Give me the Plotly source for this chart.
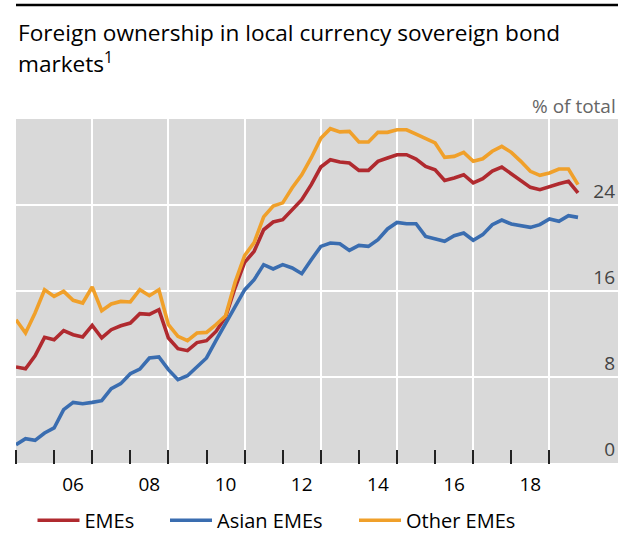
import plotly.graph_objects as go
import pandas as pd

# Quarterly observations, 2005 Q1 to 2019 Q4
quarters = pd.period_range("2005Q1", "2019Q4", freq="Q")
x_pos = [p.year + (p.quarter - 1) / 4 for p in quarters]

emes = [8.93, 8.77, 9.98, 11.69, 11.47, 12.31, 11.93, 11.72, 12.8, 11.63,
        12.4, 12.77, 13.02, 13.89, 13.83, 14.26, 11.63, 10.63, 10.45, 11.2,
        11.38, 12.24, 13.58, 16.3, 18.66, 19.69, 21.7, 22.42, 22.63, 23.56,
        24.49, 25.89, 27.53, 28.21, 28.0, 27.9, 27.22, 27.22, 28.06, 28.37,
        28.68, 28.68, 28.28, 27.59, 27.28, 26.29, 26.51, 26.82, 26.05, 26.45,
        27.15, 27.53, 26.91, 26.2, 25.64, 25.42, 25.73, 25.98, 26.2, 25.12]

asian_emes = [1.70, 2.26, 2.11, 2.79, 3.26, 4.96, 5.64, 5.52, 5.64, 5.80,
              6.91, 7.38, 8.31, 8.74, 9.77, 9.86, 8.68, 7.75, 8.12, 9.0,
              9.77, 11.4, 13.02, 14.57, 16.1, 17.05, 18.45, 18.05, 18.45, 18.14,
              17.61, 18.91, 20.15, 20.46, 20.4, 19.78, 20.24, 20.15, 20.77, 21.77,
              22.38, 22.26, 22.26, 21.08, 20.87, 20.62, 21.14, 21.4, 20.72, 21.24,
              22.17, 22.6, 22.23, 22.07, 21.92, 22.17, 22.7, 22.48, 23.0, 22.85]

other_emes = [13.33, 12.09, 13.95, 16.12, 15.5, 15.97, 15.13, 14.88, 16.37, 14.17,
              14.79, 15.03, 14.98, 16.12, 15.56, 16.12, 12.87, 11.78, 11.38, 12.09,
              12.15, 12.87, 13.7, 16.8, 19.3, 20.5, 22.9, 23.9, 24.2, 25.6,
              26.8, 28.4, 30.2, 31.1, 30.8, 30.85, 29.86, 29.86, 30.76, 30.76,
              31.0, 31.0, 30.6, 30.17, 29.77, 28.43, 28.52, 28.9, 28.06, 28.3,
              29.0, 29.45, 28.9, 28.06, 27.13, 26.76, 26.98, 27.35, 27.35, 25.89]

series_names = ["EMEs", "Asian EMEs", "Other EMEs"]
series_colors = ["#B02A2F", "#3A6DB0", "#F0A02A"]
legend_ids = ["legend", "legend2", "legend3"]

tick_years = list(range(2005, 2020))
label_years = [2006, 2008, 2010, 2012, 2014, 2016, 2018]
year_labels = ["06", "08", "10", "12", "14", "16", "18"]
grid_years = [2005, 2007, 2009, 2011, 2013, 2015, 2017, 2019]
y_ticks = [0, 8, 16, 24]

title_lines = ["Foreign ownership in local currency sovereign bond", "markets<sup>1</sup>"]
unit_label = "% of total"

FONT = "Open Sans"
W, H = 620, 550
ML, MR, MT, MB = 16, 2, 119, 87
PW, PH = W - ML - MR, H - MT - MB
X_RANGE = [2005, 2020.8]
TICK_LEN = 14


def px_x(px):
    return (px - ML) / PW


def px_y(py):
    return (H - MB - py) / PH


fig = go.Figure()
for name, vals, col, lg in zip(series_names, [emes, asian_emes, other_emes],
                               series_colors, legend_ids):
    fig.add_trace(go.Scatter(x=x_pos, y=vals, mode="lines", name=name, legend=lg,
                             line=dict(color=col, width=3.6)))

# helper (empty) trace so the tick-mark axis is drawn
fig.add_trace(go.Scatter(x=[], y=[], xaxis="x2", showlegend=False, hoverinfo="skip"))

legend_common = dict(orientation="h", yanchor="top", y=px_y(500.7),
                     xanchor="left", font=dict(size=20, family=FONT),
                     itemwidth=42, bgcolor="rgba(0,0,0,0)")

fig.update_layout(
    width=W, height=H,
    margin=dict(l=ML, r=MR, t=MT, b=MB),
    paper_bgcolor="white",
    plot_bgcolor="#D9D9D9",
    font=dict(family=FONT, size=19, color="black"),
    showlegend=True,
    legend=dict(x=px_x(32.5), **legend_common),
    legend2=dict(x=px_x(165), **legend_common),
    legend3=dict(x=px_x(354), **legend_common),
    xaxis=dict(range=X_RANGE, tickmode="array",
               tickvals=label_years, ticktext=year_labels,
               ticklabelshift=19, ticklabelstandoff=8,
               ticks="", showgrid=False, zeroline=False, showline=False,
               tickfont=dict(size=19),
               minor=dict(tickmode="array", tickvals=grid_years, ticks="",
                          showgrid=True, gridcolor="white", gridwidth=1.5)),
    # axis carrying only the yearly tick marks, sitting just above the bottom edge
    xaxis2=dict(range=X_RANGE, overlaying="x", anchor="free", side="bottom",
                position=TICK_LEN / PH, tickmode="array", tickvals=tick_years,
                ticks="outside", ticklen=TICK_LEN, tickwidth=1.6,
                tickcolor="#222222", showticklabels=False, showgrid=False,
                zeroline=False, showline=False),
    yaxis=dict(range=[0, 32], side="right", tickmode="array", tickvals=y_ticks,
               ticklabelposition="inside top", ticks="", showgrid=True,
               gridcolor="white", gridwidth=1.5, zeroline=False, showline=False,
               tickfont=dict(size=19)),
)

# title lines
for txt, cy in zip(title_lines, [32.5, 62.5]):
    fig.add_annotation(text=txt, xref="paper", yref="paper", x=0, y=px_y(cy),
                       xanchor="left", yanchor="middle", showarrow=False,
                       font=dict(size=22.6, family=FONT, color="black"))

fig.add_annotation(text=unit_label, xref="paper", yref="paper", x=1.0, y=1.0,
                   xanchor="right", yanchor="bottom", showarrow=False, yshift=-2,
                   font=dict(size=19, color="#666666"))

fig.add_shape(type="line", xref="paper", yref="paper", x0=0, x1=1.0,
              y0=px_y(5), y1=px_y(5), line=dict(color="black", width=2.5))

fig.write_html("out.html")
